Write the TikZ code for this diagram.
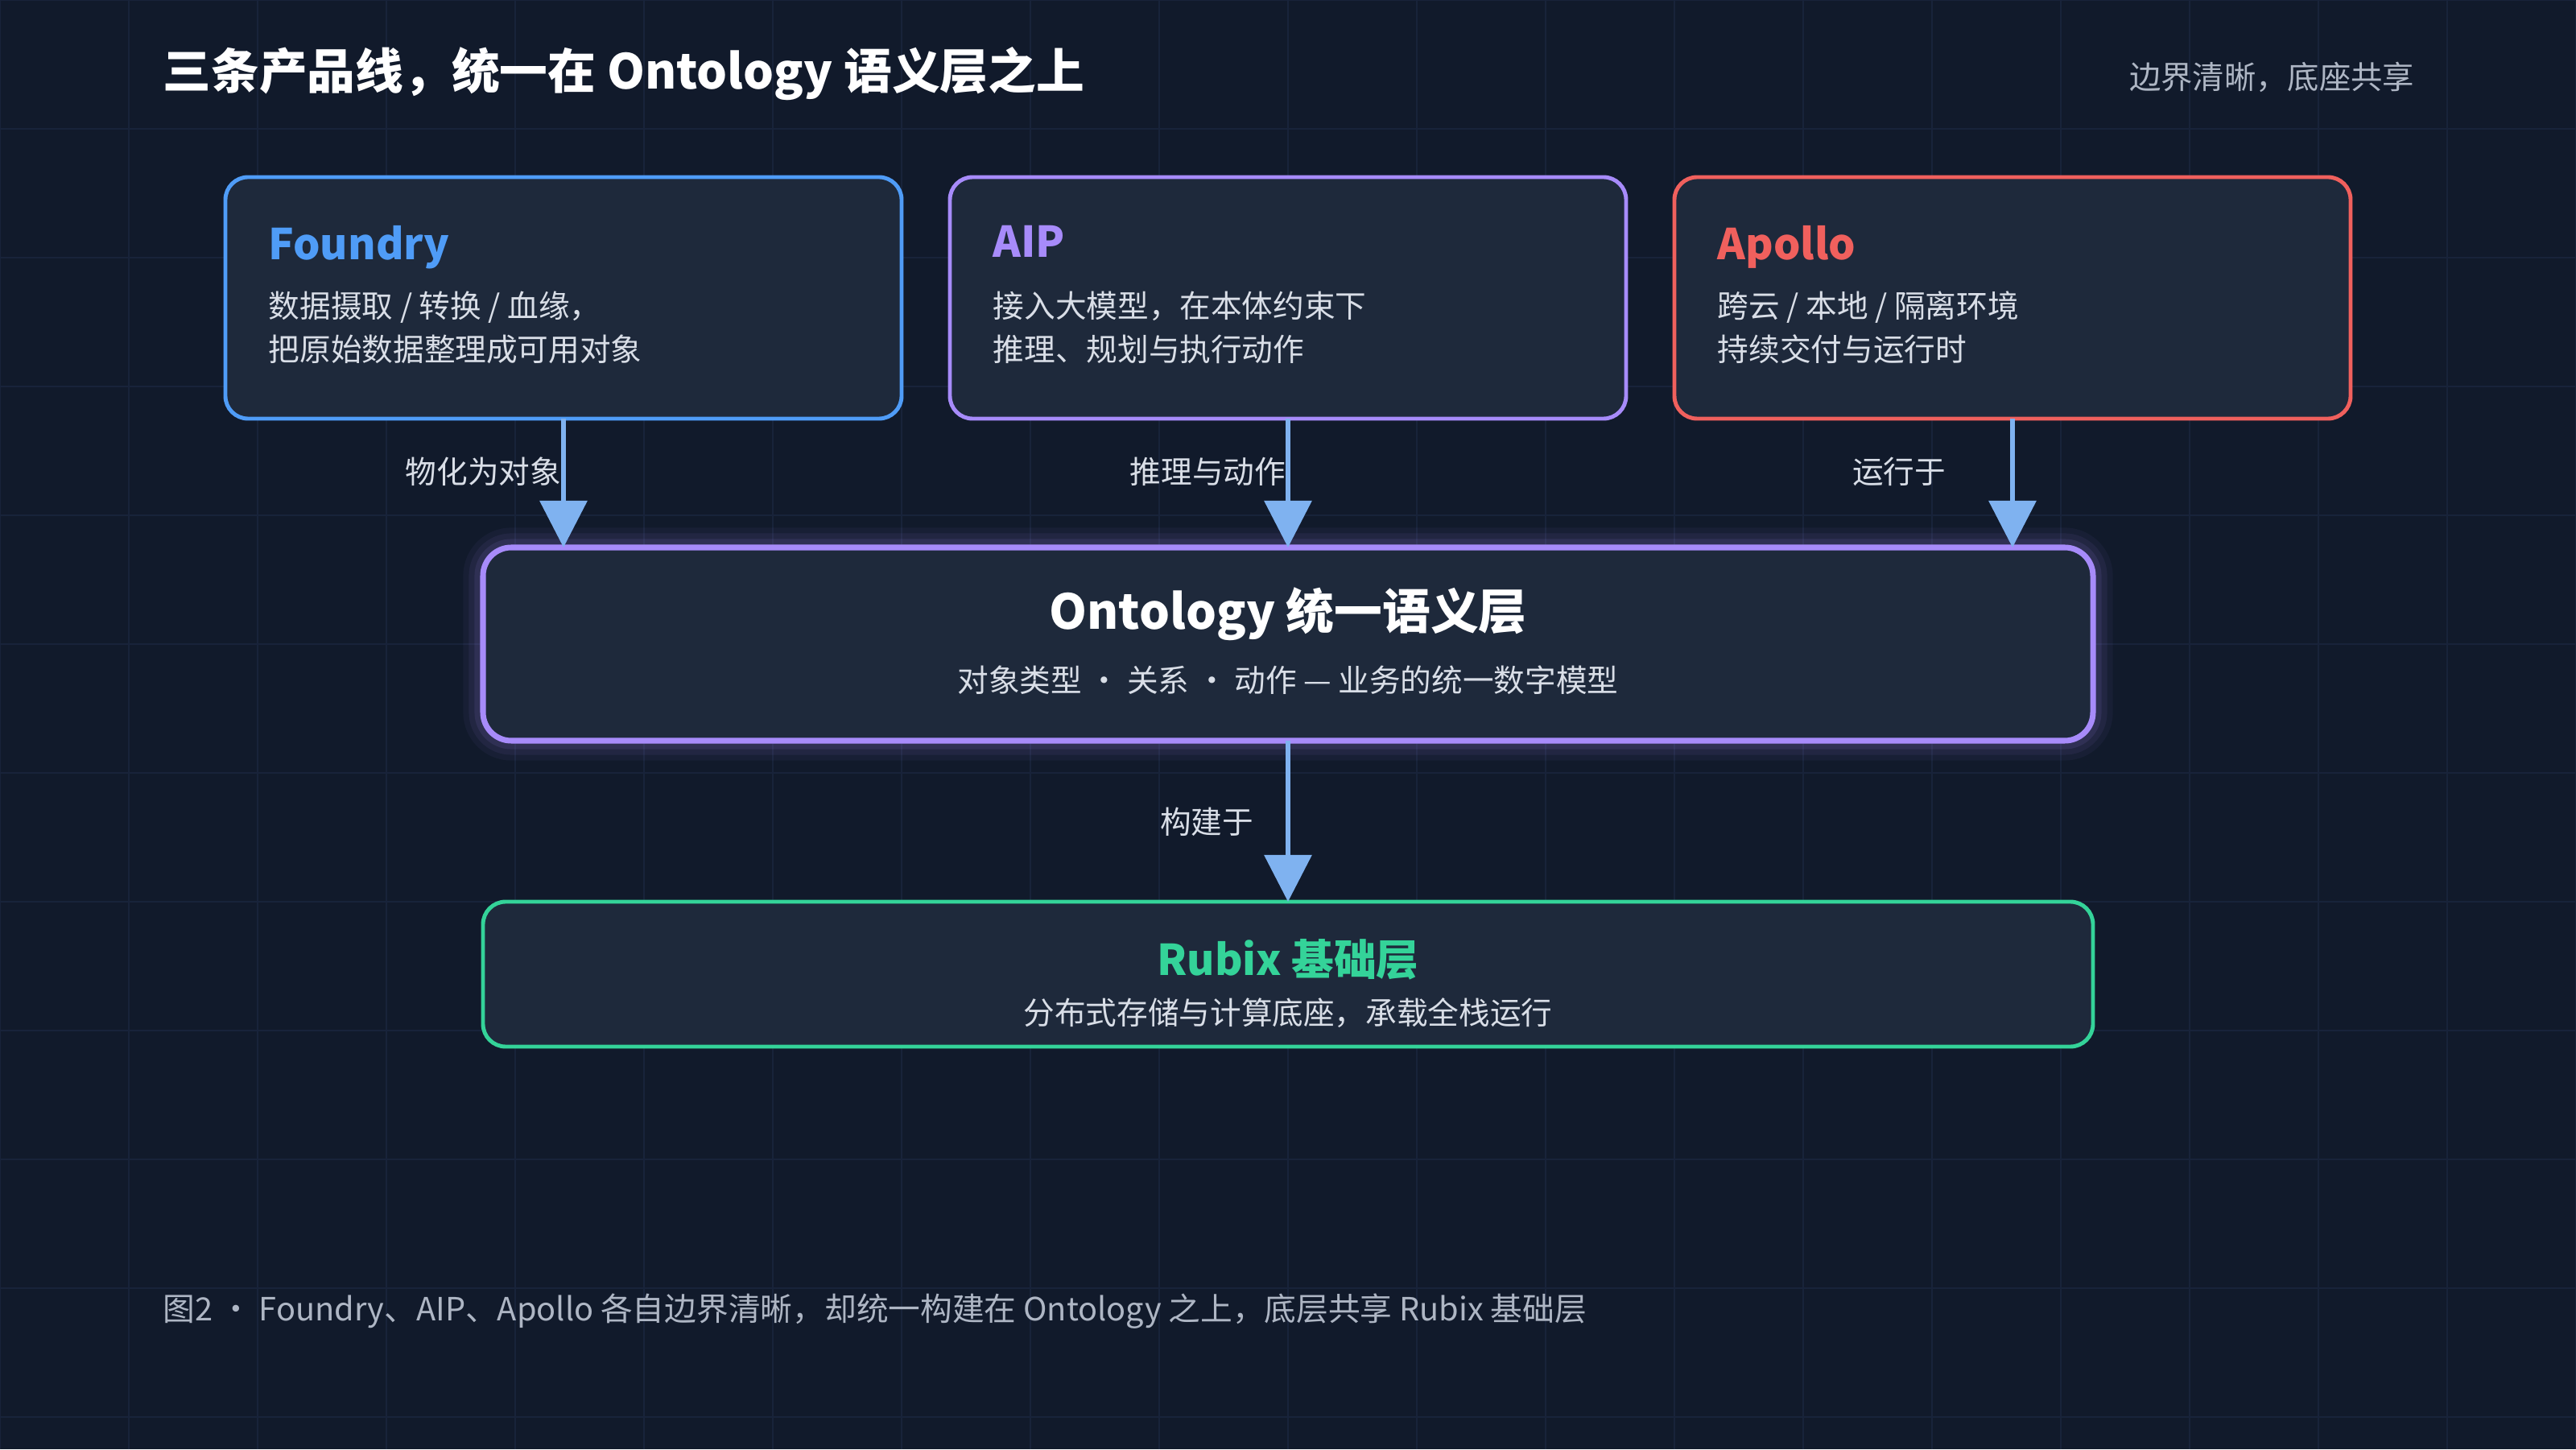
\documentclass[tikz,border=0pt]{standalone}
\usepackage{fontspec}
\setmainfont{Noto Sans CJK SC}
\usetikzlibrary{arrows.meta,positioning,calc}
\definecolor{bgcol}{HTML}{111A2B}
\definecolor{gridcol}{HTML}{18233A}
\definecolor{boxfill}{HTML}{1E293B}
\definecolor{fblue}{HTML}{4F9CF7}
\definecolor{apurple}{HTML}{A78BFA}
\definecolor{ared}{HTML}{F0605D}
\definecolor{rgreen}{HTML}{34D399}
\definecolor{arrcol}{HTML}{7FB2F0}
\definecolor{txtcol}{HTML}{D9DEE7}
\definecolor{mutedcol}{HTML}{AEB6C4}
\tikzset{
  card/.style={draw=#1, line width=1.4pt, rounded corners=8pt, fill=boxfill},
  ctitle/.style={anchor=north west, inner sep=0pt, font=\fontsize{15}{18}\selectfont\bfseries, text=#1},
  cbody/.style={anchor=north west, inner sep=0pt, align=left, font=\fontsize{11}{15.5}\selectfont, text=txtcol},
  flow/.style={arrcol, line width=1.8pt, -{Triangle[width=0.58cm,length=0.58cm]}},
  flowlbl/.style={font=\fontsize{11}{13}\selectfont, text=txtcol, inner sep=2pt}
}
\begin{document}
\begin{tikzpicture}
\fill[bgcol] (0,0) rectangle (32,18);
\useasboundingbox (0,0) rectangle (32,18);
% faint grid
\foreach \i in {0,...,20} \draw[gridcol, line width=0.4pt] (\i*1.6,0) -- (\i*1.6,18);
\foreach \j in {0,...,11} \draw[gridcol, line width=0.4pt] (0,18-\j*1.6) -- (32,18-\j*1.6);

% Heading
\node[anchor=west, inner sep=0pt, text=white, font=\fontsize{17}{20}\selectfont\bfseries] (title) at (2.02,17.08) {三条产品线，统一在 Ontology 语义层之上};
\node[anchor=east, inner sep=0pt, text=mutedcol, font=\fontsize{11.2}{13}\selectfont] (tag) at (30.0,17.04) {边界清晰，底座共享};

% Product cards
\draw[card=fblue] (2.80,12.80) rectangle (11.20,15.80);
\draw[card=apurple] (11.80,12.80) rectangle (20.20,15.80);
\draw[card=ared] (20.80,12.80) rectangle (29.20,15.80);
\coordinate (foundry) at (7.00,12.80);
\coordinate (aip) at (16.00,12.80);
\coordinate (apollo) at (25.00,12.80);

\node[ctitle=fblue] (ftitle) at (3.33,15.20) {Foundry};
\node[cbody] (fbody) at (3.33,14.39) {数据摄取 / 转换 / 血缘，\\把原始数据整理成可用对象};
\node[ctitle=apurple] (atitle) at (12.33,15.20) {AIP};
\node[cbody] (abody) at (12.33,14.39) {接入大模型，在本体约束下\\推理、规划与执行动作};
\node[ctitle=ared] (ptitle) at (21.33,15.20) {Apollo};
\node[cbody] (pbody) at (21.33,14.39) {跨云 / 本地 / 隔离环境\\持续交付与运行时};

% Ontology layer with glow
\foreach \w/\o in {14pt/0.05,10pt/0.07,6pt/0.10} {
  \draw[apurple, line width=\w, opacity=\o, rounded corners=10pt] (6.00,8.80) rectangle (26.00,11.20);
}
\draw[card=apurple, line width=2pt, rounded corners=10pt] (6.00,8.80) rectangle (26.00,11.20);
\coordinate (ontotop) at (16.00,11.20);
\coordinate (ontobot) at (16.00,8.80);
\node[inner sep=0pt, text=white, font=\fontsize{17}{20}\selectfont\bfseries] (otitle) at (16.00,10.37) {Ontology 统一语义层};
\node[inner sep=0pt, text=txtcol, font=\fontsize{11}{13}\selectfont] (osub) at (16.00,9.55) {对象类型 · 关系 · 动作 — 业务的统一数字模型};

% Rubix base
\draw[card=rgreen] (6.00,5.00) rectangle (26.00,6.80);
\coordinate (rubixtop) at (16.00,6.80);
\node[inner sep=0pt, text=rgreen, font=\fontsize{15}{18}\selectfont\bfseries] (rtitle) at (16.00,6.08) {Rubix 基础层};
\node[inner sep=0pt, text=txtcol, font=\fontsize{11}{13}\selectfont] (rsub) at (16.00,5.42) {分布式存储与计算底座，承载全栈运行};

% Connectors
\draw[flow] (foundry) -- (foundry |- ontotop);
\draw[flow] (aip) -- (ontotop);
\draw[flow] (apollo) -- (apollo |- ontotop);
\draw[flow] (ontobot) -- (rubixtop);
\node[flowlbl, anchor=east] (l1) at (7.05,12.14) {物化为对象};
\node[flowlbl, anchor=east] (l2) at (16.05,12.14) {推理与动作};
\node[flowlbl, anchor=east] (l3) at (24.25,12.14) {运行于};
\node[flowlbl, anchor=east] (l4) at (15.65,7.79) {构建于};

% Caption
\node[anchor=west, inner sep=0pt, text=mutedcol, font=\fontsize{11.3}{13}\selectfont] (cap) at (2.02,1.71) {图2 · Foundry、AIP、Apollo 各自边界清晰，却统一构建在 Ontology 之上，底层共享 Rubix 基础层};
\end{tikzpicture}
\end{document}
